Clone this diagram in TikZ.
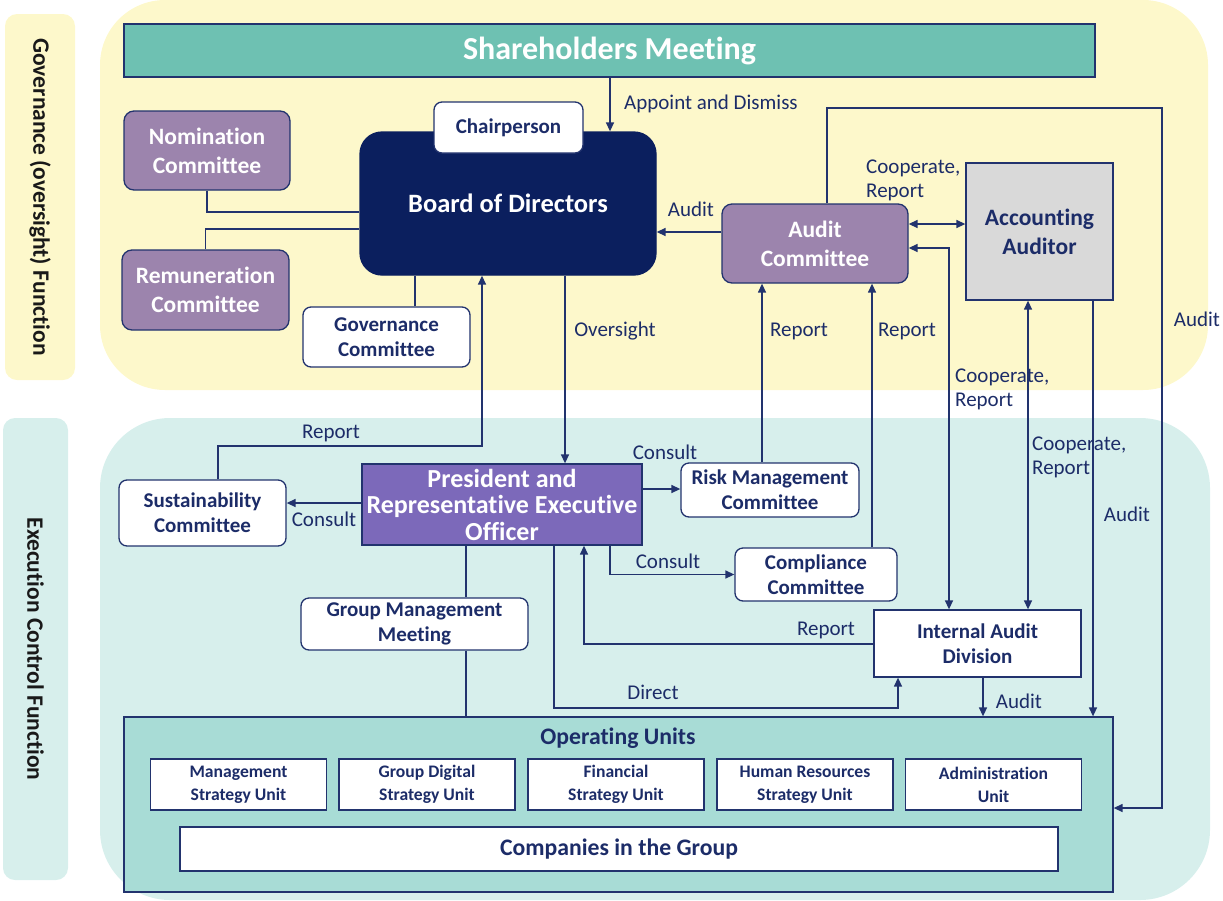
\documentclass[tikz,border=0pt]{standalone}
\usepackage{fontspec}
\setmainfont{Carlito}[Ligatures=NoCommon]
\usetikzlibrary{arrows.meta}
\definecolor{navy}{HTML}{0B1F5E}
\definecolor{linec}{HTML}{22336E}
\definecolor{txt}{HTML}{1C2C68}
\definecolor{ylw}{HTML}{FDF8CB}
\definecolor{cyn}{HTML}{D7EFEC}
\definecolor{tealc}{HTML}{6EC1B2}
\definecolor{purp}{HTML}{9C84AD}
\definecolor{presc}{HTML}{7C69BA}
\definecolor{opu}{HTML}{A8DCD6}
\definecolor{gry}{HTML}{D9D9D9}
\newcommand\fsz[2]{\fontsize{#1}{#2}\selectfont}
\tikzset{
 base/.style={draw=linec, line width=1.3pt, inner sep=0pt, align=center, text=txt, font=\bfseries\fsz{21}{25}},
 wbox/.style={base, fill=white, rounded corners=8pt},
 pbox/.style={base, fill=purp, rounded corners=10pt, text=white, font=\bfseries\fsz{23.5}{29}},
 nbox/.style={base, fill=navy, draw=navy, rounded corners=22pt, text=white, font=\bfseries\fsz{26.5}{30}},
 ubox/.style={base, fill=white, font=\bfseries\fsz{17.6}{23}, minimum width=176pt, minimum height=51pt},
 side/.style={rotate=-90, rounded corners=12pt, inner sep=0pt, font=\bfseries\fsz{23.5}{28}, text=black!90},
 lbl/.style={text=txt, font=\fsz{21}{24}, inner sep=0pt, align=left},
 conn/.style={draw=linec, line width=1.4pt},
 arr/.style={conn, -{Triangle[length=9pt,width=8pt]}},
 arrs/.style={conn, {Triangle[length=9pt,width=8pt]}-{Triangle[length=9pt,width=8pt]}},
}
\begin{document}
\begin{tikzpicture}[x=1pt,y=-1pt]
\useasboundingbox (0,0) rectangle (1223,900);
% panels
\fill[ylw, rounded corners=65pt] (100,0) rectangle (1208,390);
\fill[cyn, rounded corners=70pt] (100,418) rectangle (1210,900);
\node[side, fill=ylw, minimum width=366pt, minimum height=70pt] (govlab) at (40,197) {Governance (oversight) Function};
\node[side, fill=cyn, minimum width=462pt, minimum height=65pt] (exelab) at (35.5,649) {Execution Control Function};

% governance nodes
\node[base, fill=tealc, text=white, font=\bfseries\fsz{32}{36}, minimum width=971pt, minimum height=53pt] (sh) at (609.5,50.5) {Shareholders Meeting};
\node[nbox, minimum width=296pt, minimum height=143pt] (board) at (508,203.5) {Board of Directors};
\node[wbox, minimum width=149pt, minimum height=51pt] (chair) at (508.5,127.5) {Chairperson};
\node[pbox, minimum width=166pt, minimum height=79pt] (nom) at (207,150.5) {Nomination\\Committee};
\node[pbox, minimum width=167pt, minimum height=80pt] (rem) at (205.5,290) {Remuneration\\Committee};
\node[wbox, minimum width=167pt, minimum height=60pt] (gov) at (386.5,337) {Governance\\Committee};
\node[pbox, minimum width=186pt, minimum height=79pt] (audc) at (815,243.5) {Audit\\Committee};
\node[base, fill=gry, font=\bfseries\fsz{23.5}{29}, minimum width=147pt, minimum height=137pt] (acc) at (1039.5,231.5) {Accounting\\Auditor};

% execution nodes
\node[base, fill=presc, text=white, font=\bfseries\fsz{26}{26.5}, minimum width=280pt, minimum height=81pt] (pres) at (502,504.5) {President and\\Representative Executive\\Officer};
\node[wbox, minimum width=167pt, minimum height=66pt] (sus) at (202.5,513) {Sustainability\\Committee};
\node[wbox, minimum width=178pt, minimum height=54pt] (risk) at (770,490) {Risk Management\\Committee};
\node[wbox, minimum width=162pt, minimum height=53pt] (comp) at (816,574.5) {Compliance\\Committee};
\node[base, fill=white, minimum width=207pt, minimum height=67pt] (iad) at (977.5,643.5) {Internal Audit\\Division};
\node[wbox, minimum width=227pt, minimum height=52pt] (gmm) at (414.5,624) {Group Management\\Meeting};

% operating units
\node[base, fill=opu, minimum width=989pt, minimum height=175pt] (ou) at (618.5,804.5) {};
\node[text=txt, font=\bfseries\fsz{23.7}{28}, inner sep=0pt] (outitle) at (618,738) {Operating Units};
\node[ubox] (u1) at (238.5,784.5) {Management\\Strategy Unit};
\node[ubox] (u2) at (427,784.5) {Group Digital\\Strategy Unit};
\node[ubox] (u3) at (616,784.5) {Financial\\Strategy Unit};
\node[ubox] (u4) at (805,784.5) {Human Resources\\Strategy Unit};
\node[ubox] (u5) at (993.5,784.5) {Administration\\Unit};
\node[base, fill=white, font=\bfseries\fsz{23.7}{28}, minimum width=878pt, minimum height=44pt] (cig) at (619,849) {Companies in the Group};

% connectors (governance)
\draw[conn] (nom.south) |- (board.west |- 0,212);
\draw[conn] (rem.north) |- (board.west |- 0,229);
\draw[conn] (415,0 |- gov.north) -- (415,0 |- board.south);
\draw[arr] (610,0 |- sh.south) -- (610,0 |- board.north);
\draw[arr] (audc.west |- 0,232) -- (board.east |- 0,232);
\draw[arrs] (audc.east |- 0,224) -- (acc.west |- 0,224);
\draw[arrs] (audc.east |- 0,248) -| (949,0 |- iad.north);
\draw[arrs] (1028,0 |- acc.south) -- (1028,0 |- iad.north);
\draw[arr] (1093,0 |- acc.south) -- (1093,0 |- ou.north);
\draw[arr] (827,0 |- audc.north) -- (827,108) -- (1162,108) -- (1162,808) -- (ou.east |- 0,808);
\draw[arr] (762,0 |- risk.north) -- (762,0 |- audc.south);
\draw[arr] (872,0 |- comp.north) -- (872,0 |- audc.south);
\draw[arr] (565,0 |- board.south) -- (565,0 |- pres.north);
\draw[arr] (218,0 |- sus.north) |- (482,446) -- (482,0 |- board.south);

% connectors (execution)
\draw[arr] (pres.west |- 0,503) -- (sus.east |- 0,503);
\draw[arr] (pres.east |- 0,489) -- (risk.west |- 0,489);
\draw[arr] (610,0 |- pres.south) |- (comp.west);
\draw[arr] (iad.west |- 0,644) -| (584,0 |- pres.south);
\draw[arr] (554,0 |- pres.south) |- (898,708) -- (898,0 |- iad.south);
\draw[arr] (983,0 |- iad.south) -- (983,0 |- ou.north);
\draw[conn] (466,0 |- pres.south) -- (466,0 |- gmm.north);
\draw[conn] (466,0 |- gmm.south) -- (466,0 |- ou.north);

% labels
\node[lbl, anchor=west] (l1) at (624,104) {Appoint and Dismiss};
\node[lbl] (l2) at (691,209) {Audit};
\node[lbl, anchor=west] (l3) at (866,180) {Cooperate,\\Report};
\node[lbl, anchor=west] (l4) at (955,389) {Cooperate,\\Report};
\node[lbl, anchor=west] (l5) at (1032,457) {Cooperate,\\Report};
\node[lbl] (l6) at (1127,514) {Audit};
\node[lbl] (l7) at (1197,319) {Audit};
\node[lbl] (l8) at (799,331) {Report};
\node[lbl] (l9) at (907,331) {Report};
\node[lbl] (l10) at (615,331) {Oversight};
\node[lbl] (l11) at (331,433) {Report};
\node[lbl] (l12) at (324,519) {Consult};
\node[lbl] (l13) at (665,452) {Consult};
\node[lbl] (l14) at (668,561) {Consult};
\node[lbl] (l15) at (826,630) {Report};
\node[lbl] (l16) at (653,692) {Direct};
\node[lbl] (l17) at (1019,701) {Audit};
\end{tikzpicture}
\end{document}
